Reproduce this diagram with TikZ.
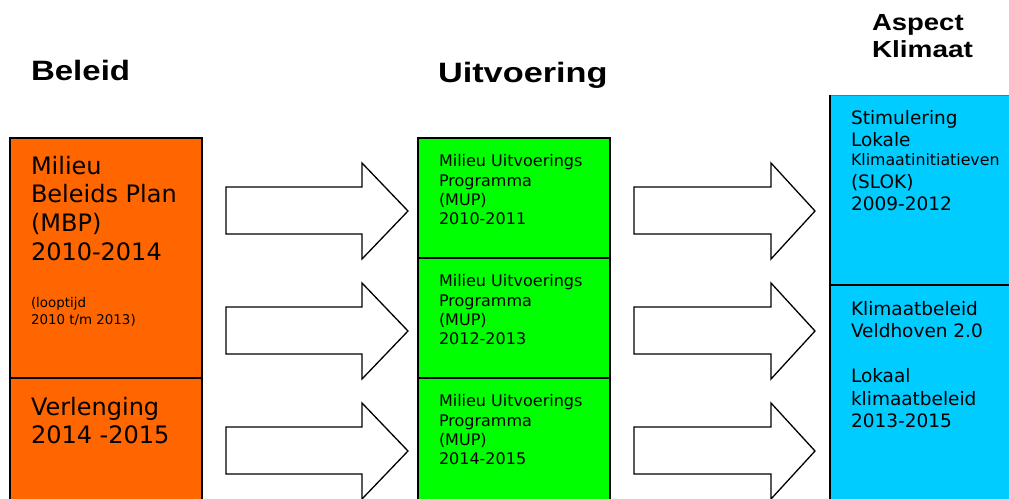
\documentclass[tikz,border=0pt]{standalone}
\usepackage{fontspec}
\usepackage{array}
\setmainfont{DejaVu Sans}
\newfontfamily\hdfont{Liberation Sans}
\definecolor{orangeC}{HTML}{FF6600}
\definecolor{greenC}{HTML}{00FF00}
\definecolor{blueC}{HTML}{00CCFF}
\definecolor{blueEdge}{HTML}{0099CC}
\newcommand\stk[3]{\fontsize{#1}{#2}\selectfont\begin{tabular}[t]{@{}l@{}}#3\end{tabular}}
\newcommand\hd[3]{\fontsize{#1}{#1}\selectfont\hdfont\bfseries\scalebox{#2}[1]{#3}}
\begin{document}
\begin{tikzpicture}[x=1pt,y=-1pt,
  boxline/.style={draw=black,line width=1.5pt},
  txt/.style={anchor=base west,inner sep=0pt,outer sep=0pt,text=black},
  blockarrow/.style={draw=black,line width=1.3pt,fill=white,line join=miter}]
\useasboundingbox (0,0) rectangle (1009,498);
% boxes
\path[boxline,fill=orangeC] (10,138) rectangle (202,530);
\path[boxline] (10,378) -- (202,378);
\path[boxline,fill=greenC] (418,138) rectangle (610,530);
\path[boxline] (418,258) -- (610,258);
\path[boxline] (418,378) -- (610,378);
\fill[blueC] (830,95) rectangle (1030,530);
\draw[blueEdge,line width=1pt] (830,95) -- (1030,95);
\draw[boxline] (830,95) -- (830,530);
\draw[boxline] (830,285) -- (1030,285);
% arrows
\foreach \dy in {0,120,240}{
  \draw[blockarrow] (226,{187+\dy}) -- (362,{187+\dy}) -- (362,{163+\dy}) -- (408,{211+\dy})
     -- (362,{259+\dy}) -- (362,{234+\dy}) -- (226,{234+\dy}) -- cycle;
  \draw[blockarrow] (634,{187+\dy}) -- (771,{187+\dy}) -- (771,{163+\dy}) -- (815,{211+\dy})
     -- (771,{259+\dy}) -- (771,{234+\dy}) -- (634,{234+\dy}) -- cycle;
}
% headers
\node[txt] (h1) at (31,80.7) {\hd{28}{1.18}{Beleid}};
\node[txt] (h2) at (438,82.3) {\hd{28}{1.225}{Uitvoering}};
\node[txt] (h3) at (872,30) {\hd{23.3}{1.18}{Aspect}};
\node[txt] (h4) at (872,57.3) {\hd{23.3}{1.2}{Klimaat}};
% texts
\node[txt] (mbp) at (31,174.3) {\stk{24}{28.6}{Milieu\\Beleids Plan\\(MBP)\\2010-2014}};
\node[txt] (loop) at (31,307.7) {\stk{13.4}{16.6}{(looptijd\\2010 t/m 2013)}};
\node[txt] (verl) at (31,415) {\stk{24}{28.5}{Verlenging\\2014 -2015}};
\node[txt] (mup1) at (439,166.7) {\stk{16}{19.3}{Milieu Uitvoerings\\Programma\\(MUP)\\2010-2011}};
\node[txt] (mup2) at (439,286.7) {\stk{16}{19.3}{Milieu Uitvoerings\\Programma\\(MUP)\\2012-2013}};
\node[txt] (mup3) at (439,406.7) {\stk{16}{19.3}{Milieu Uitvoerings\\Programma\\(MUP)\\2014-2015}};
\node[txt] (slok) at (851,124) {\stk{18.5}{22.4}{Stimulering\\Lokale\\[-3pt]{\fontsize{15.8}{19}\selectfont Klimaatinitiatieven}\\(SLOK)\\2009-2012}};
\node[txt] (kb) at (851,315) {\stk{18.5}{22.5}{Klimaatbeleid\\Veldhoven 2.0\\ \\Lokaal\\klimaatbeleid\\2013-2015}};
\end{tikzpicture}
\end{document}
